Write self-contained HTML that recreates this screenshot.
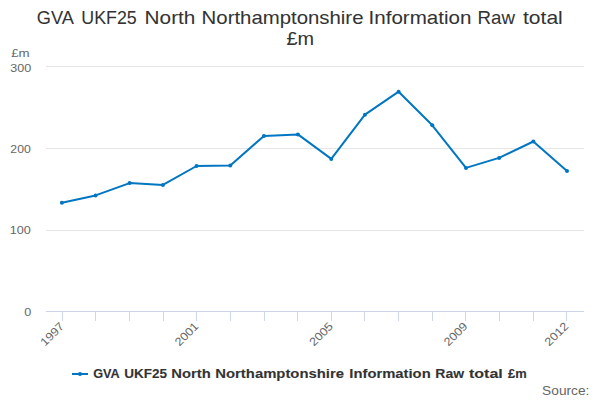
<!DOCTYPE html>
<html>
<head>
<meta charset="utf-8">
<style>
html,body{margin:0;padding:0;background:#fff;width:600px;height:400px;overflow:hidden;}
svg{display:block;font-family:"Liberation Sans", sans-serif;}
</style>
</head>
<body>
<svg width="600" height="400" viewBox="0 0 600 400">
<rect x="0" y="0" width="600" height="400" fill="#ffffff"/>
<path d="M46 66.5H584 M46 148.5H584 M46 230.5H584" stroke="#e6e6e6" stroke-width="1" fill="none"/>
<path d="M46 311.5H584" stroke="#ccd6eb" stroke-width="1" fill="none"/>
<path d="M62.5 311V321 M95.5 311V321 M129.5 311V321 M163.5 311V321 M196.5 311V321 M230.5 311V321 M264.5 311V321 M297.5 311V321 M331.5 311V321 M364.5 311V321 M398.5 311V321 M432.5 311V321 M465.5 311V321 M499.5 311V321 M533.5 311V321 M566.5 311V321" stroke="#ccd6eb" stroke-width="1" fill="none"/>
<g>
<text x="36.85" y="23.90" font-size="19" fill="#333333" stroke="#333333" stroke-width="0.05" textLength="37.08" lengthAdjust="spacingAndGlyphs">GVA</text>
<text x="81.30" y="23.90" font-size="19" fill="#333333" stroke="#333333" stroke-width="0.05" textLength="55.47" lengthAdjust="spacingAndGlyphs">UKF25</text>
<text x="144.60" y="23.90" font-size="19" fill="#333333" stroke="#333333" stroke-width="0.05" textLength="50.80" lengthAdjust="spacingAndGlyphs">North</text>
<text x="201.60" y="23.90" font-size="19" fill="#333333" stroke="#333333" stroke-width="0.05" textLength="161.88" lengthAdjust="spacingAndGlyphs">Northamptonshire</text>
<text x="368.60" y="23.90" font-size="19" fill="#333333" stroke="#333333" stroke-width="0.05" textLength="102.80" lengthAdjust="spacingAndGlyphs">Information</text>
<text x="477.60" y="23.90" font-size="19" fill="#333333" stroke="#333333" stroke-width="0.05" textLength="37.40" lengthAdjust="spacingAndGlyphs">Raw</text>
<text x="523.00" y="23.90" font-size="19" fill="#333333" stroke="#333333" stroke-width="0.05" textLength="39.75" lengthAdjust="spacingAndGlyphs">total</text>
<text x="286.55" y="45.00" font-size="19" fill="#333333" stroke="#333333" stroke-width="0.05" textLength="27.60" lengthAdjust="spacingAndGlyphs">£m</text>
<text x="11.15" y="57.00" font-size="11.5" fill="#666666" stroke="#666666" stroke-width="0.0" textLength="18.40" lengthAdjust="spacingAndGlyphs">£m</text>
<text x="10.22" y="71.80" font-size="11.5" fill="#666666" stroke="#666666" stroke-width="0.0" textLength="20.87" lengthAdjust="spacingAndGlyphs">300</text>
<text x="10.35" y="152.80" font-size="11.5" fill="#666666" stroke="#666666" stroke-width="0.0" textLength="20.35" lengthAdjust="spacingAndGlyphs">200</text>
<text x="9.65" y="234.00" font-size="11.5" fill="#666666" stroke="#666666" stroke-width="0.0" textLength="21.05" lengthAdjust="spacingAndGlyphs">100</text>
<text x="24.35" y="316.00" font-size="11.5" fill="#666666" stroke="#666666" stroke-width="0.0" textLength="7.00" lengthAdjust="spacingAndGlyphs">0</text>
<text x="93.23" y="377.80" font-size="12.5" fill="#333333" stroke="#333333" stroke-width="0.1" font-weight="bold" textLength="26.57" lengthAdjust="spacingAndGlyphs">GVA</text>
<text x="124.30" y="377.80" font-size="12.5" fill="#333333" stroke="#333333" stroke-width="0.1" font-weight="bold" textLength="42.80" lengthAdjust="spacingAndGlyphs">UKF25</text>
<text x="171.30" y="377.80" font-size="12.5" fill="#333333" stroke="#333333" stroke-width="0.1" font-weight="bold" textLength="39.40" lengthAdjust="spacingAndGlyphs">North</text>
<text x="215.30" y="377.80" font-size="12.5" fill="#333333" stroke="#333333" stroke-width="0.1" font-weight="bold" textLength="128.70" lengthAdjust="spacingAndGlyphs">Northamptonshire</text>
<text x="349.30" y="377.80" font-size="12.5" fill="#333333" stroke="#333333" stroke-width="0.1" font-weight="bold" textLength="81.40" lengthAdjust="spacingAndGlyphs">Information</text>
<text x="435.30" y="377.80" font-size="12.5" fill="#333333" stroke="#333333" stroke-width="0.1" font-weight="bold" textLength="28.70" lengthAdjust="spacingAndGlyphs">Raw</text>
<text x="469.00" y="377.80" font-size="12.5" fill="#333333" stroke="#333333" stroke-width="0.1" font-weight="bold" textLength="33.70" lengthAdjust="spacingAndGlyphs">total</text>
<text x="508.00" y="377.80" font-size="12.5" fill="#333333" stroke="#333333" stroke-width="0.1" font-weight="bold" textLength="18.70" lengthAdjust="spacingAndGlyphs">£m</text>
<text x="542.10" y="394.50" font-size="12" fill="#666666" stroke="#666666" stroke-width="0.0" textLength="47.30" lengthAdjust="spacingAndGlyphs">Source:</text>
<text transform="translate(64.80,327.00) rotate(-45)" font-size="11.5" fill="#666666" stroke="#666666" stroke-width="0.0" text-anchor="end" textLength="28.00" lengthAdjust="spacingAndGlyphs">1997</text>
<text transform="translate(199.30,327.00) rotate(-45)" font-size="11.5" fill="#666666" stroke="#666666" stroke-width="0.0" text-anchor="end" textLength="28.00" lengthAdjust="spacingAndGlyphs">2001</text>
<text transform="translate(333.80,327.00) rotate(-45)" font-size="11.5" fill="#666666" stroke="#666666" stroke-width="0.0" text-anchor="end" textLength="28.00" lengthAdjust="spacingAndGlyphs">2005</text>
<text transform="translate(468.30,327.00) rotate(-45)" font-size="11.5" fill="#666666" stroke="#666666" stroke-width="0.0" text-anchor="end" textLength="28.00" lengthAdjust="spacingAndGlyphs">2009</text>
<text transform="translate(569.17,327.00) rotate(-45)" font-size="11.5" fill="#666666" stroke="#666666" stroke-width="0.0" text-anchor="end" textLength="28.00" lengthAdjust="spacingAndGlyphs">2012</text>
</g>
<path d="M61.90 202.80 L95.57 195.40 L129.60 183.10 L162.92 184.90 L196.59 166.00 L230.27 165.50 L263.94 135.90 L297.90 134.40 L331.28 158.90 L364.96 114.70 L398.63 91.70 L432.30 125.30 L465.98 167.90 L499.10 157.90 L533.32 141.50 L567.00 171.00" stroke="#0076c2" stroke-width="2" fill="none" stroke-linejoin="round" stroke-linecap="round"/>
<g fill="#0076c2"><circle cx="61.90" cy="202.80" r="2"/><circle cx="95.57" cy="195.40" r="2"/><circle cx="129.60" cy="183.10" r="2"/><circle cx="162.92" cy="184.90" r="2"/><circle cx="196.59" cy="166.00" r="2"/><circle cx="230.27" cy="165.50" r="2"/><circle cx="263.94" cy="135.90" r="2"/><circle cx="297.90" cy="134.40" r="2"/><circle cx="331.28" cy="158.90" r="2"/><circle cx="364.96" cy="114.70" r="2"/><circle cx="398.63" cy="91.70" r="2"/><circle cx="432.30" cy="125.30" r="2"/><circle cx="465.98" cy="167.90" r="2"/><circle cx="499.10" cy="157.90" r="2"/><circle cx="533.32" cy="141.50" r="2"/><circle cx="567.00" cy="171.00" r="2"/></g>
<path d="M72 374H88" stroke="#0076c2" stroke-width="2" fill="none"/><circle cx="80" cy="374" r="2" fill="#0076c2"/>
</svg>
</body>
</html>
